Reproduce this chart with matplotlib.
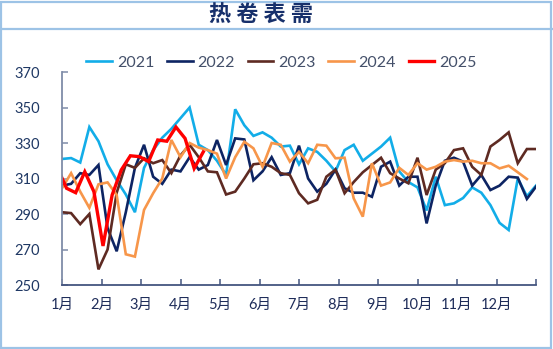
import numpy as np
import matplotlib
matplotlib.use("Agg")
import matplotlib.pyplot as plt
from matplotlib.patches import Rectangle
from matplotlib.lines import Line2D

plt.rcParams['font.family'] = ['Lato', 'Noto Sans CJK SC', 'DejaVu Sans']

title = "热 卷 表 需"
months = ["1月", "2月", "3月", "4月", "5月", "6月", "7月", "8月", "9月", "10月", "11月", "12月"]
yticks = [250, 270, 290, 310, 330, 350, 370]

v2021 = [321, 321.5, 319, 339, 331, 318, 309, 301, 291, 316,
         326, 333, 338, 344, 350, 329, 326, 320, 312, 349,
         340, 334, 336, 333, 328, 328.5, 318, 327, 325, 320,
         314, 326, 329, 320, 324, 328, 333, 314, 308, 305,
         292, 311, 295, 296, 299, 305, 302, 295, 285, 281,
         310, 300, 306]
v2022 = [306, 307, 313, 312, 317.6, 282, 269, 291, 316, 329,
         311, 307, 315, 314, 322, 315, 317.6, 331.7, 317.6, 332.6,
         332, 309, 314, 322, 312, 313, 328.5, 310, 302.6, 307,
         315, 304.5, 302, 302, 299.7, 316.6, 319.5, 306, 311, 311,
         284.7, 306, 320, 321.7, 319.5, 306, 312, 303.5, 306, 311,
         310.5, 298.5, 305.4]
v2023 = [291, 290.5, 284.3, 290, 258.8, 270, 302, 318, 316, 321.4,
         318.6, 320.4, 313, 323, 329, 322, 314, 313.5, 301, 302.6,
         310, 318, 318.6, 316.6, 313, 312, 301.7, 296, 298, 311,
         315, 301.7, 308, 313.5, 317.6, 321.7, 313, 310, 307.3, 321.7,
         300.7, 315, 318.6, 326, 327, 316.6, 312, 328, 331.7, 336,
         318.6, 326.6, 326.6]
v2024 = [304.5, 313, 302.6, 293.5, 306.7, 307.8, 300.7, 267.3, 266, 292.3,
         301.7, 310, 331.7, 322, 330, 327.4, 326, 324, 310, 322,
         330.7, 327, 316.6, 330, 329, 319.5, 325, 318.6, 329, 328.5,
         321.4, 321.7, 298.8, 288.5, 318.6, 306, 307.8, 316, 312, 318.6,
         315, 316.6, 319.5, 320.4, 319.5, 320, 318.6, 318.6, 315.7, 317.2,
         313.5, 309.7]
v2025 = [316, 304.5, 302, 313.8, 302.6, 272, 300.7, 314.8, 322.8, 322.3,
         319.5, 331.7, 331, 339, 332.6, 315.7, 325]
weeks2025 = np.arange(-1, len(v2025) - 1) + 0.5

series = [
    ("2021", v2021, None, "#12ADE8", 1.9),
    ("2022", v2022, None, "#0D2463", 1.9),
    ("2023", v2023, None, "#5E2A22", 1.9),
    ("2024", v2024, None, "#F7964A", 1.9),
    ("2025", v2025, weeks2025, "#FF0000", 2.4),
]

W, H = 553, 349
fig = plt.figure(figsize=(W / 100, H / 100), dpi=100)

# frame and title band
border = "#9DC3E6"
fig.add_artist(Rectangle((1 / W, 1 / H), 1 - 3 / W, 1 - 3 / H, transform=fig.transFigure,
                         fill=False, edgecolor=border, linewidth=1.6))
fig.add_artist(Line2D([0, 1], [1 - 28.5 / H, 1 - 28.5 / H], transform=fig.transFigure,
                      color=border, linewidth=1.6))
fig.text(0.472, 1 - 15.5 / H, title, ha="center", va="center", fontsize=16,
         fontweight="bold", color="#17306B", family=["Noto Sans CJK SC"])

ax = fig.add_axes([62 / W, 1 - 285 / H, (536 - 62) / W, (285 - 72) / H])
handles = []
for name, vals, xs, col, lw in series:
    x = np.arange(len(vals)) if xs is None else xs
    h, = ax.plot(x, vals, color=col, linewidth=lw, label=name, solid_joinstyle="miter",
                 clip_on=True)
    handles.append(h)

ax.set_xlim(0, 52)
ax.set_ylim(250, 370)
ax.set_yticks(yticks)
mt = [52 * k / 12 for k in range(13)]
ax.set_xticks(mt)
ax.set_xticklabels(months + [""])
for s in ["top", "right"]:
    ax.spines[s].set_visible(False)
ax.spines["left"].set_color("#7F8CA8")
ax.spines["bottom"].set_color("#44557F")
ax.spines["left"].set_linewidth(1.3)
ax.spines["bottom"].set_linewidth(1.3)
ax.tick_params(axis="y", direction="in", length=4.5, width=1.1, color="#7F8CA8",
               labelsize=10.5, labelcolor="#1F3864", pad=16)
ax.tick_params(axis="x", direction="in", length=4.5, width=1.1, color="#44557F",
               labelsize=10.5, labelcolor="#1F2D5A", pad=9)
for lab in ax.get_xticklabels():
    lab.set_family(["Lato", "Noto Sans CJK SC"])

fig.legend(handles=handles, loc="center", bbox_to_anchor=(0.509, 1 - 62.5 / H), ncol=5,
           frameon=False, fontsize=11.5, handlelength=1.6, handletextpad=0.3,
           columnspacing=0.8, labelcolor="#44506A")

fig.savefig("out.png", dpi=100)
